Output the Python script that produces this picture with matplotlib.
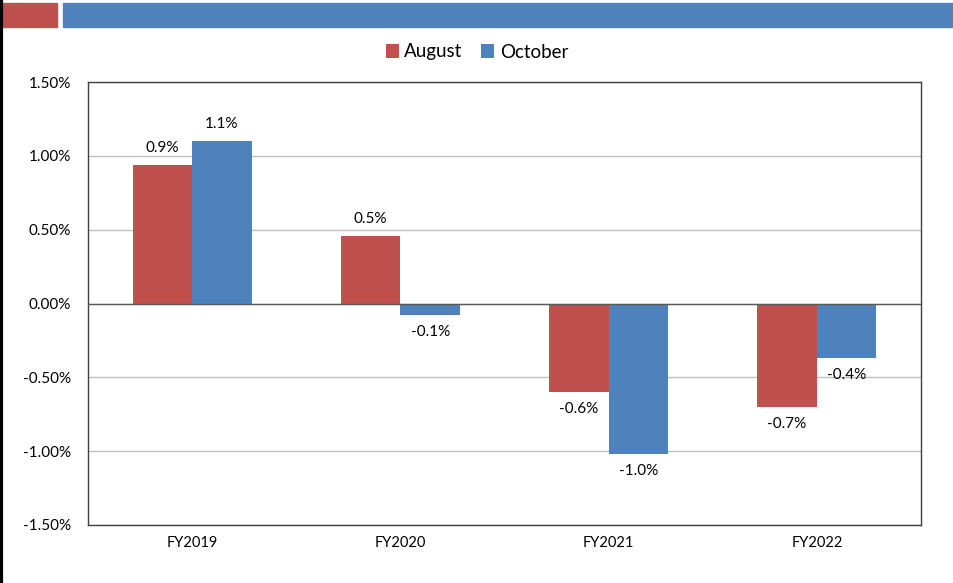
import matplotlib.pyplot as plt
import matplotlib.patches as mpatches
import numpy as np

plt.rcParams['font.family'] = ['Lato', 'DejaVu Sans']

years = ['FY2019', 'FY2020', 'FY2021', 'FY2022']
august = [0.94, 0.46, -0.60, -0.70]
october = [1.10, -0.08, -1.02, -0.37]
aug_labels = ['0.9%', '0.5%', '-0.6%', '-0.7%']
oct_labels = ['1.1%', '-0.1%', '-1.0%', '-0.4%']

red = '#c0504d'
blue = '#4f81bd'

fig = plt.figure(figsize=(9.54, 5.83), dpi=100)
W, H = 954, 583

# decorative header bars and left rule
fig.add_artist(mpatches.Rectangle((2/W, 1-27/H), 55/W, 24/H, color=red, transform=fig.transFigure))
fig.add_artist(mpatches.Rectangle((63/W, 1-27/H), (W-63)/W, 24/H, color=blue, transform=fig.transFigure))
fig.add_artist(plt.Line2D([1/W, 1/W], [0, 1], color='black', lw=3, transform=fig.transFigure))

ax = fig.add_axes([88/W, 1-525/H, (921-88)/W, (525-82)/H])

x = np.arange(len(years))
w = 0.286
b1 = ax.bar(x - w/2, august, w, color=red, label='August', zorder=3)
b2 = ax.bar(x + w/2, october, w, color=blue, label='October', zorder=3)

def label_bars(bars, labels):
    for rect, lab in zip(bars, labels):
        v = rect.get_height()
        cx = rect.get_x() + rect.get_width()/2
        if v >= 0:
            ax.annotate(lab, (cx, v), xytext=(0, 7), textcoords='offset points',
                        ha='center', va='bottom', fontsize=11)
        else:
            ax.annotate(lab, (cx, v), xytext=(0, -7), textcoords='offset points',
                        ha='center', va='top', fontsize=11)

label_bars(b1, aug_labels)
label_bars(b2, oct_labels)

ax.set_xlim(-0.5, 3.5)
ax.set_ylim(-1.5, 1.5)
yt = np.arange(-1.5, 1.51, 0.5)
ax.set_yticks(yt)
ax.set_yticklabels(['%.2f%%' % t for t in yt], fontsize=11)
ax.set_xticks(x)
ax.set_xticklabels(years, fontsize=10.5)
ax.tick_params(length=0, pad=8)
ax.tick_params(axis='y', pad=12)
ax.yaxis.grid(True, color='#bfbfbf', lw=1, zorder=0)
ax.axhline(0, color='#595959', lw=1, zorder=4)
for s in ax.spines.values():
    s.set_color('#404040')
    s.set_linewidth(1)

fig.legend(handles=[b1, b2], loc='center', bbox_to_anchor=(477/W, 1-52/H), ncol=2,
           frameon=False, fontsize=13.5, handlelength=0.7, handleheight=0.7,
           handletextpad=0.3, columnspacing=1.0)

fig.savefig('out.png', dpi=100)
